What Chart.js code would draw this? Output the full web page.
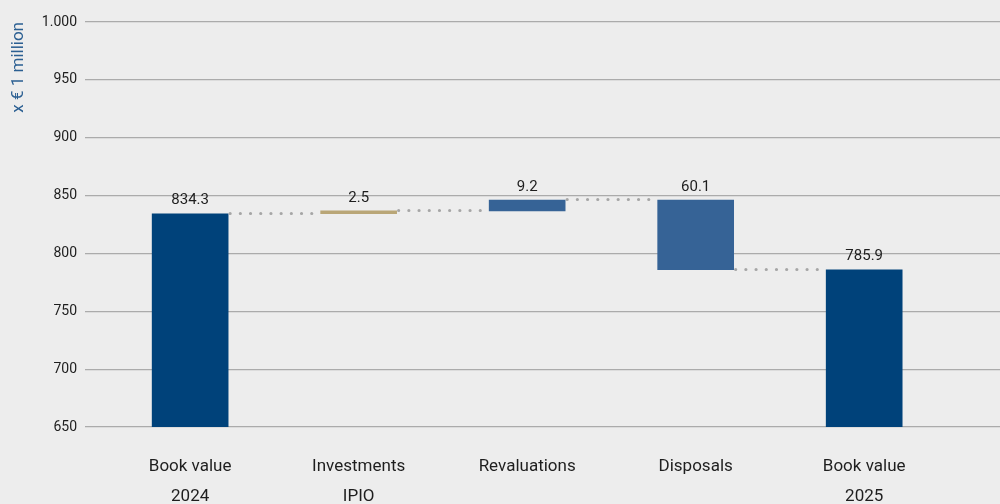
<!DOCTYPE html>
<html>
<head>
<meta charset="utf-8">
<script src="https://cdn.jsdelivr.net/npm/chart.js@4/dist/chart.umd.min.js"></script>
<style>
  html, body { margin: 0; padding: 0; background: #ededed; }
  #wrap { width: 1000px; height: 504px; position: relative; }
</style>
</head>
<body>
<div id="wrap"><canvas id="chart"></canvas></div>
<script>
// categories (two-line labels under the axis)
var CATEGORIES = [
  ['Book value', '2024'],
  ['Investments', 'IPIO'],
  ['Revaluations', ''],
  ['Disposals', ''],
  ['Book value', '2025']
];
// floating bars: from / to (x € 1 million)
var BAR_FROM = [650, 834.3, 836.8, 846.0, 650];
var BAR_TO = [834.3, 836.8, 846.0, 785.9, 785.9];
var VALUE_LABELS = ['834.3', '2.5', '9.2', '60.1', '785.9'];
var BAR_COLORS = ['#00427a', '#b9a677', '#366396', '#366396', '#00427a'];
var Y_MIN = 650, Y_MAX = 1000, Y_STEP = 50;

function $(id) { return document.getElementById(id); }

function fmtThousands(v) {
  return String(v).replace(/\B(?=(\d{3})+(?!\d))/g, '.');
}

// dotted connectors + value labels
var waterfallExtras = {
  id: 'waterfallExtras',
  afterDatasetsDraw: function (chart) {
    var meta = chart.getDatasetMeta(0);
    var y = chart.scales.y;
    var ctx = chart.ctx;
    ctx.save();
    ctx.strokeStyle = '#a6a6a6';
    ctx.lineWidth = 3.2;
    ctx.lineCap = 'round';
    ctx.setLineDash([0, 10.2]);
    for (var i = 0; i < meta.data.length - 1; i++) {
      var a = meta.data[i], b = meta.data[i + 1];
      var py = Math.round(y.getPixelForValue(BAR_TO[i])) - 0.5;
      ctx.beginPath();
      ctx.moveTo(a.x + a.width / 2 + 2, py);
      ctx.lineTo(b.x - b.width / 2, py);
      ctx.stroke();
    }
    ctx.restore();

    ctx.save();
    ctx.fillStyle = '#1e1e1e';
    ctx.font = '15px Roboto';
    ctx.textAlign = 'center';
    ctx.textBaseline = 'middle';
    meta.data.forEach(function (el, i) {
      var top = Math.min(el.y, el.base);
      ctx.fillText(VALUE_LABELS[i], el.x, top - 13);
    });
    ctx.restore();
  }
};

new Chart($('chart'), {
  type: 'bar',
  data: {
    datasets: [{
      data: CATEGORIES.map(function (c, i) { return { x: i, y: [BAR_FROM[i], BAR_TO[i]] }; }),
      backgroundColor: BAR_COLORS,
      borderWidth: 0,
      barThickness: 76
    }]
  },
  options: {
    responsive: true,
    maintainAspectRatio: false,
    animation: false,
    layout: { padding: { top: 22, right: 0, left: 0, bottom: 0 } },
    plugins: { legend: { display: false }, tooltip: { enabled: false } },
    scales: {
      x: {
        type: 'linear',
        min: -0.624,
        max: 4.806,
        offset: false,
        grid: { display: false, offset: false },
        border: { display: false },
        afterBuildTicks: function (axis) {
          axis.ticks = CATEGORIES.map(function (c, i) { return { value: i }; });
        },
        afterFit: function (axis) { axis.height = 77; },
        ticks: {
          autoSkip: false,
          maxRotation: 0,
          padding: 16,
          color: '#1e1e1e',
          font: { family: 'Roboto', size: 17, lineHeight: 1.8 },
          callback: function (v) { return CATEGORIES[v]; }
        }
      },
      y: {
        min: Y_MIN,
        max: Y_MAX,
        grid: { color: '#ababab', lineWidth: 1.2, drawTicks: false },
        border: { display: false },
        afterFit: function (axis) { axis.width = 85; },
        ticks: {
          stepSize: Y_STEP,
          padding: 8,
          color: '#1e1e1e',
          font: { family: 'Roboto', size: 14 },
          callback: function (v) { return fmtThousands(v); }
        },
        title: {
          display: true,
          text: 'x € 1 million',
          align: 'end',
          color: '#2b5f92',
          font: { family: 'Roboto', size: 17 },
          padding: { top: 9, bottom: 4 }
        }
      }
    }
  },
  plugins: [waterfallExtras]
});
</script>
</body>
</html>
